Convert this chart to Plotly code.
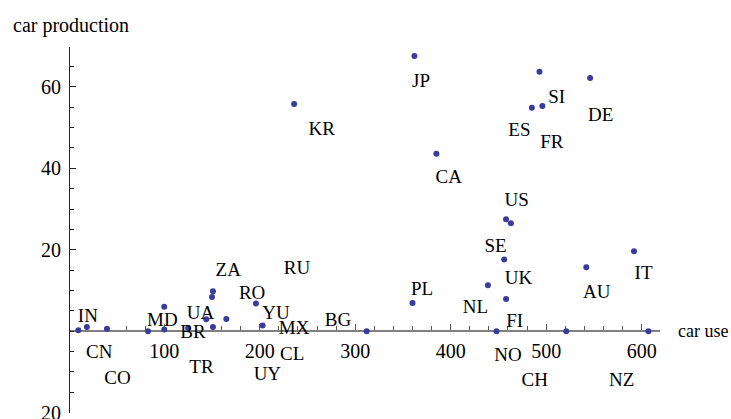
import plotly.graph_objects as go

countries = ["IN", "CN", "CO", "MD", "BR", "UA", "TR", "ZA", "RO", "RU", "YU", "MX", "CL", "UY", "BG",
             "KR", "JP", "CA", "PL", "NL", "NO", "SE", "UK", "FI", "US", "ES", "SI", "FR", "CH", "AU", "DE", "IT", "NZ"]
car_use = [19, 10, 40, 83, 125, 100, 144, 151, 196, 150, 203, 165, 151, 100, 312,
           236, 362, 385, 360, 439, 448, 456, 458, 458, 463, 485, 493, 496, 521, 542, 546, 592, 607]
car_production = [1.0, 0.2, 0.6, 0.0, 0.8, 0.4, 2.9, 9.8, 6.8, 8.4, 1.4, 3.0, 1.0, 6.0, 0.0,
                  55.8, 67.6, 43.6, 6.9, 11.3, 0.0, 17.6, 7.9, 27.5, 26.5, 54.9, 63.7, 55.3, 0.0, 15.7, 62.2, 19.6, 0.0]
# label positions (data coordinates, text centre)
label_x = [20, 32, 51, 98, 130, 138, 139, 167, 192, 239, 217, 236, 234, 208, 282,
           265, 369, 398, 370, 426, 460, 447, 471, 467, 469, 472, 511, 506, 488, 553, 557, 602, 579]
label_y = [3.4, -5.3, -11.7, 2.4, -0.4, 4.1, -9.1, 14.7, 9.0, 15.1, 4.1, 0.4, -6.0, -10.8, 2.4,
           49.4, 61.2, 37.6, 10.0, 5.7, -6.1, 20.6, 12.8, 2.1, 31.8, 49.0, 57.3, 46.1, -12.2, 9.4, 52.8, 13.9, -12.2]

x_ticks = [100, 200, 300, 400, 500, 600]
y_ticks = [-20, 20, 40, 60]
y_tick_text = ["20", "20", "40", "60"]

x_range = [1.3, 619.2]
y_range = [-20.1, 69.8]

FONT = "Liberation Serif"
dot_color = "#3b3b9e"

fig = go.Figure()
fig.add_trace(go.Scatter(
    x=car_use, y=car_production, mode="markers",
    marker=dict(size=6, color=dot_color), cliponaxis=False, hoverinfo="skip"))
fig.add_trace(go.Scatter(
    x=label_x, y=label_y, mode="text", text=countries, textposition="middle center",
    textfont=dict(family=FONT, size=19, color="black"), cliponaxis=False, hoverinfo="skip"))

pos = (0 - y_range[0]) / (y_range[1] - y_range[0])

fig.update_layout(
    width=731, height=419,
    margin=dict(l=70, r=71, t=47, b=6, autoexpand=False),
    paper_bgcolor="white", plot_bgcolor="white",
    showlegend=False,
    font=dict(family=FONT, size=20, color="black"),
    xaxis=dict(
        range=x_range, anchor="free", position=pos, automargin=False,
        showgrid=False, zeroline=False,
        showline=True, linecolor="#808080", linewidth=2,
        tickmode="array", tickvals=x_ticks, ticks="inside", ticklen=6, tickcolor="#555555", tickwidth=1,
        minor=dict(tick0=0, dtick=20, ticks="inside", ticklen=4, tickcolor="#555555", tickwidth=1),
        tickfont=dict(family=FONT, size=20, color="black"),
        ticklabelstandoff=2,
        layer="below traces",
    ),
    yaxis=dict(
        range=y_range, automargin=False,
        showgrid=False, zeroline=False,
        showline=True, linecolor="#222222", linewidth=1,
        tickmode="array", tickvals=y_ticks, ticktext=y_tick_text, ticks="inside", ticklen=6,
        tickcolor="#222222", tickwidth=1,
        minor=dict(tick0=0, dtick=5, ticks="inside", ticklen=4, tickcolor="#222222", tickwidth=1),
        tickfont=dict(family=FONT, size=20, color="black"),
        ticklabelstandoff=4,
        ticklabeloverflow="allow",
        layer="below traces",
    ),
    annotations=[
        dict(text="car production", xref="paper", yref="paper", x=-0.1, y=1.0575,
             xanchor="left", yanchor="middle", showarrow=False,
             font=dict(family=FONT, size=20, color="black")),
        dict(text="car use", xref="paper", yref="paper", x=1.027, y=pos,
             xanchor="left", yanchor="middle", showarrow=False,
             font=dict(family=FONT, size=18, color="black")),
    ],
)

fig.write_html("out.html", config={"displayModeBar": False},
               post_script="document.body.style.margin='0';document.body.style.overflow='hidden';")
